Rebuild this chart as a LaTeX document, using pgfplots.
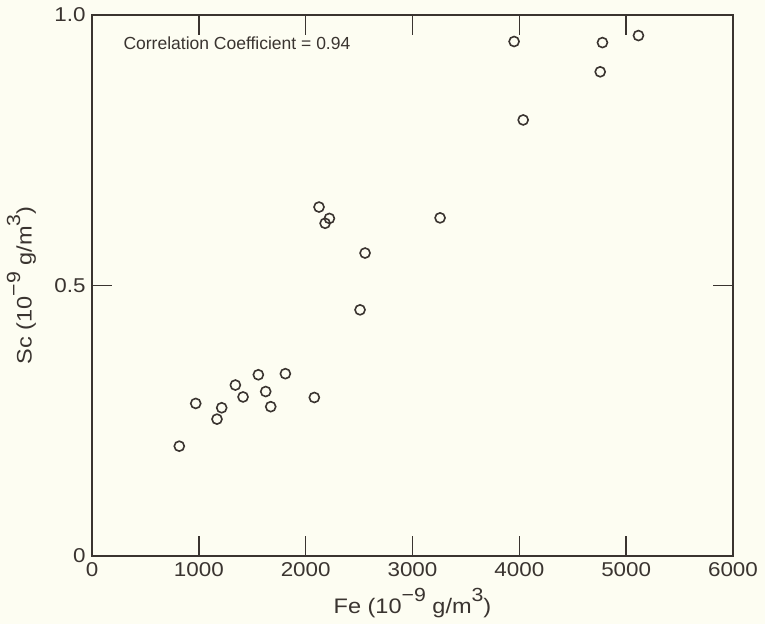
\documentclass[border=0pt]{standalone}
\usepackage{pgfplots}
\pgfplotsset{compat=1.18}
\usepackage{fontspec}
\setmainfont{Liberation Sans}
\newfontfamily\wide[FakeStretch=1.12]{Liberation Sans}
\definecolor{ink}{RGB}{58,52,48}
\definecolor{paper}{RGB}{253,253,242}
\newcommand{\supr}[1]{\raisebox{0.55em}{\fontsize{19}{19}\selectfont #1}}
\begin{document}
\begin{tikzpicture}
\fill[paper] (-92pt,-68pt) rectangle (673pt,556pt);
\begin{axis}[
  scale only axis,
  width=641pt, height=541pt,
  xmin=0, xmax=6000, ymin=0, ymax=1,
  xtick={0,1000,2000,3000,4000,5000,6000},
  ytick={0,0.5,1},
  yticklabels={0,0.5,1.0},
  scaled x ticks=false,
  /pgf/number format/assume math mode=true,
  /pgf/number format/1000 sep={},
  tick align=inside,
  major tick length=20pt,
  axis line style={ink, line width=1.5pt},
  every tick/.style={ink, line width=1.5pt},
  tick label style={font=\wide\fontsize{20}{22}\selectfont, text=ink},
  yticklabel style={xshift=-3pt},
  xticklabel style={yshift=-3pt},
  label style={font=\wide\fontsize{21}{24}\selectfont, text=ink},
  xlabel={Fe (10\supr{−9} g/m\supr{3})},
  ylabel={Sc (10\supr{−9} g/m\supr{3})},
  xlabel style={at={(axis description cs:0.5,-0.087)}, anchor=center},
  ylabel style={at={(axis description cs:-0.11,0.5)}, anchor=center},
]
\addplot[only marks, mark=o, mark size=5pt, mark options={ink, line width=1.6pt}] coordinates {
(817,0.203) (971,0.282) (1170,0.253) (1214,0.274) (1342,0.316) (1414,0.294)
(1557,0.335) (1626,0.304) (1673,0.276) (1810,0.337) (2081,0.293)
(2125,0.645) (2222,0.624) (2182,0.615) (2556,0.560) (2509,0.455)
(3258,0.625)
(3951,0.951) (4778,0.949) (5115,0.962) (4757,0.895) (4036,0.806)
};
\node[anchor=west, text=ink, font=\fontsize{17.5}{22}\selectfont] at (axis cs:262,0.948) {Correlation Coefficient = 0.94};
\end{axis}
\pgfresetboundingbox
\path[use as bounding box] (-92pt,-68pt) rectangle (673pt,556pt);
\end{tikzpicture}
\end{document}
